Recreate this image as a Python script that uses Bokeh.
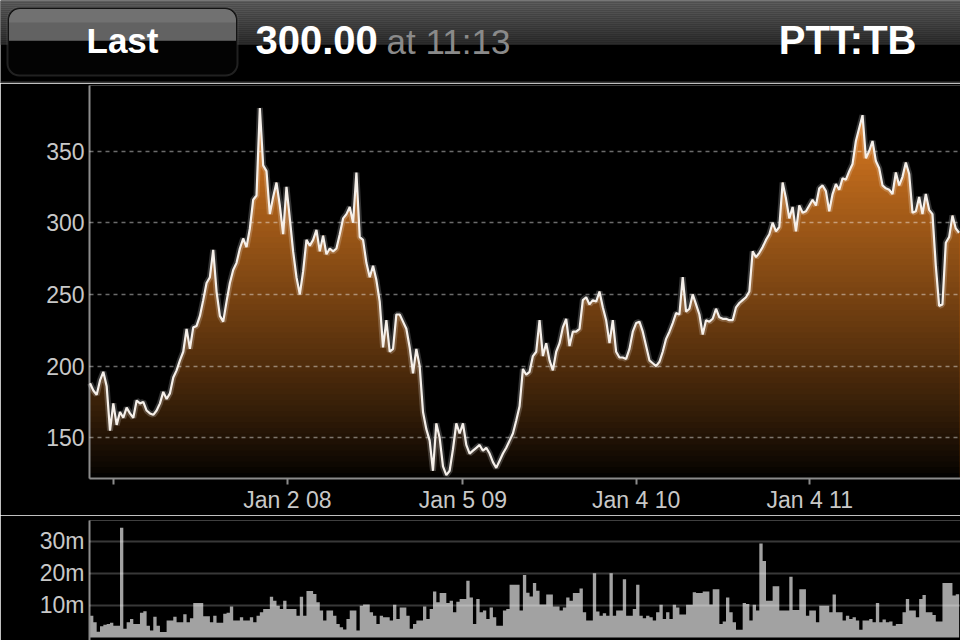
import numpy as np
import pandas as pd
from bokeh.plotting import figure
from bokeh.layouts import column
from bokeh.models import Range1d, FixedTicker, BoxAnnotation, Label
from bokeh.embed import file_html
from bokeh.resources import INLINE

# ---------------- data ----------------
week_start = "2006-11-13"
price = [
    188, 183, 180, 190, 196, 186, 155, 174, 159, 168,
    164, 171, 167, 164, 176, 174, 175, 169, 167, 166,
    169, 174, 182, 177, 181, 192, 197, 204, 210, 226,
    212, 227, 228, 235, 246, 258, 262, 281, 252, 235,
    231, 245, 258, 267, 272, 282, 289, 283, 296, 316,
    319, 380, 340, 336, 306, 318, 328, 312, 292, 325,
    303, 280, 262, 250, 266, 288, 284, 288, 295, 280,
    291, 278, 282, 280, 282, 292, 303, 306, 311, 300,
    335, 290, 288, 272, 262, 270, 260, 245, 213, 232,
    210, 212, 236, 236, 231, 226, 213, 195, 212, 200,
    168, 156, 148, 127, 160, 150, 130, 124, 127, 142,
    160, 153, 160, 145, 139, 141, 143, 145, 141, 143,
    139, 133, 129, 134, 139, 143, 148, 153, 162, 172,
    198, 194, 196, 207, 210, 232, 207, 216, 204, 197,
    210, 216, 227, 233, 214, 224, 224, 226, 246, 248,
    243, 246, 245, 252, 241, 232, 216, 232, 210, 206,
    206, 205, 212, 224, 230, 231, 224, 214, 204, 202,
    200, 203, 210, 219, 224, 230, 237, 236, 262, 238,
    240, 250, 243, 236, 222, 232, 231, 233, 240, 234,
    233, 233, 232, 232, 241, 244, 246, 248, 252, 280,
    276, 279, 283, 288, 292, 300, 294, 297, 328, 317,
    303, 311, 294, 312, 307, 308, 312, 316, 312, 324,
    326, 322, 308, 320, 327, 323, 331, 330, 336, 341,
    357, 366, 375, 345, 350, 357, 343, 338, 326, 324,
    323, 320, 335, 326, 332, 342, 334, 307, 308, 318,
    306, 320, 309, 306, 270, 242, 243, 286, 290, 305,
    296, 293,
]
volume_m = [
    6.8, 4.8, 1.8, 3.5, 4.0, 4.2, 4.6, 3.7, 3.7, 34.3,
    2.7, 4.8, 5.8, 4.2, 4.2, 7.7, 8.2, 3.7, 2.2, 6.5,
    3.7, 1.7, 1.7, 5.3, 5.3, 6.5, 4.8, 4.8, 7.3, 4.8,
    6.0, 10.8, 10.8, 10.8, 6.6, 6.6, 4.8, 6.8, 4.6, 4.6,
    7.4, 7.7, 9.7, 5.3, 5.3, 6.3, 5.3, 5.3, 6.3, 4.8,
    6.8, 7.9, 8.9, 8.9, 12.7, 11.5, 9.9, 8.9, 11.5, 8.9,
    8.9, 8.9, 6.8, 12.7, 6.8, 14.5, 14.5, 13.6, 11.0, 8.4,
    5.3, 8.4, 8.4, 6.8, 4.2, 3.2, 2.5, 5.8, 8.4, 8.4,
    2.2, 9.9, 10.3, 10.3, 7.9, 6.8, 4.2, 6.8, 6.3, 6.3,
    5.3, 10.2, 5.8, 9.4, 9.4, 6.8, 2.7, 4.2, 5.3, 5.3,
    9.7, 5.8, 8.9, 14.4, 11.0, 13.9, 13.9, 10.8, 11.5, 7.9,
    11.2, 12.0, 12.0, 17.7, 12.5, 4.2, 12.0, 7.9, 8.4, 5.8,
    9.4, 6.3, 3.7, 3.7, 8.4, 8.9, 16.5, 16.5, 16.5, 8.4,
    19.5, 14.0, 12.8, 17.0, 14.6, 10.3, 10.3, 13.4, 13.4, 9.7,
    9.7, 8.4, 9.4, 12.5, 11.5, 13.9, 13.9, 15.3, 7.9, 5.3,
    5.3, 20.1, 8.1, 6.8, 7.6, 6.8, 20.1, 6.8, 8.4, 8.4,
    18.2, 6.8, 6.8, 8.9, 16.5, 6.8, 6.0, 6.8, 6.3, 5.3,
    7.9, 10.2, 5.8, 7.9, 5.8, 10.2, 9.4, 7.2, 7.2, 10.2,
    10.2, 14.1, 13.9, 13.9, 14.4, 14.4, 10.3, 15.1, 15.1, 4.2,
    5.0, 12.5, 7.9, 4.8, 2.4, 2.4, 10.8, 10.5, 5.3, 10.2,
    8.4, 29.4, 23.9, 11.5, 11.5, 16.0, 16.0, 8.4, 8.4, 8.4,
    19.0, 8.6, 8.6, 15.1, 15.1, 6.8, 8.4, 8.4, 4.8, 9.9,
    9.9, 9.9, 7.9, 13.4, 7.9, 7.9, 5.3, 6.8, 5.8, 6.3,
    5.3, 2.4, 5.3, 5.3, 5.8, 4.8, 10.8, 4.8, 5.6, 4.8,
    5.0, 3.7, 4.2, 4.2, 7.9, 12.0, 8.4, 8.4, 6.3, 12.0,
    13.3, 7.9, 7.9, 7.0, 5.0, 5.0, 17.0, 17.0, 17.0, 13.1,
    13.5, 13.5,
]
tick_dates = ["2007-01-02", "2008-01-02", "2009-01-05", "2010-01-04", "2011-01-04"]
tick_labels = ["", "Jan 2 08", "Jan 5 09", "Jan 4 10", "Jan 4 11"]
price_ticks = [150, 200, 250, 300, 350]
volume_ticks = [10, 20, 30]
volume_labels = ["10m", "20m", "30m"]
button_text = "Last"
last_price = "300.00"
last_time = "at 11:13"
symbol = "PTT:TB"

# ---------------- helpers ----------------
FONT = "Liberation Sans"
W = 960
LEFT = 89
n = min(len(price), len(volume_m))
dates = pd.date_range(week_start, periods=n, freq="7D")
price_arr = np.array(price[:n], dtype=float)
vol_arr = np.array(volume_m[:n], dtype=float)


def to_ms(d):
    return int((pd.Timestamp(d) - pd.Timestamp("1970-01-01")) // pd.Timedelta(milliseconds=1))


tick_ms = [to_ms(d) for d in tick_dates]
x_start = pd.Timestamp("2006-11-11 22:00")
x_end = pd.Timestamp("2011-11-16 22:00")


def hexc(rgb):
    r, g, b = [int(max(0, min(255, round(v)))) for v in rgb]
    return "#%02x%02x%02x" % (r, g, b)


def dark(fig):
    fig.background_fill_color = "black"
    fig.border_fill_color = "black"
    fig.outline_line_color = None


# ---------------- header ----------------
hdr = figure(width=W, height=83, x_range=Range1d(0, 960), y_range=Range1d(83, 0),
             toolbar_location=None, output_backend="svg", title=None,
             x_axis_location=None, y_axis_location=None,
             min_border_left=0, min_border_right=0, min_border_top=0, min_border_bottom=0)
hdr.frame_align = False
dark(hdr)
hdr.grid.visible = False
g_edges = np.arange(0, 43, 2)
g_cols = [hexc([94 - 50 * (e + 1) / 43.0] * 3) for e in g_edges]
hdr.quad(left=0, right=960, top=g_edges, bottom=g_edges + 2.2, fill_color=g_cols, line_color=None)
hdr.quad(left=0, right=960, top=[81], bottom=[83], fill_color="#3a3a3a", line_color=None)

btn = BoxAnnotation(left=7, right=237, top=7, bottom=75, border_radius=12,
                    fill_color="#030303", fill_alpha=1.0, line_color="#6e6e6e", line_width=2)
gloss = BoxAnnotation(left=8.5, right=235.5, top=8.5, bottom=40, border_radius=(11, 11, 0, 0),
                      fill_color="#717171", fill_alpha=1.0, line_alpha=0)
gloss2 = BoxAnnotation(left=8.5, right=235.5, top=22, bottom=40,
                       fill_color="#626262", fill_alpha=1.0, line_alpha=0)
hdr.add_layout(btn)
hdr.add_layout(gloss)
hdr.add_layout(gloss2)
TY = 39.5
hdr.add_layout(Label(x=122, y=TY, text=button_text, text_align="center", text_baseline="middle",
                     text_font=FONT, text_font_style="bold", text_font_size="35px", text_color="white"))
hdr.add_layout(Label(x=255, y=TY, text=last_price, text_align="left", text_baseline="middle",
                     text_font=FONT, text_font_style="bold", text_font_size="40px", text_color="white"))
hdr.add_layout(Label(x=386, y=TY + 1, text=last_time, text_align="left", text_baseline="middle",
                     text_font=FONT, text_font_size="35px", text_color="#8a8a8a"))
hdr.add_layout(Label(x=916, y=TY, text=symbol, text_align="right", text_baseline="middle",
                     text_font=FONT, text_font_style="bold", text_font_size="40px", text_color="white"))

# ---------------- price chart ----------------
Y0, Y1 = 121.6, 395.7
xr = Range1d(x_start, x_end)
p = figure(width=W, height=432, x_axis_type="datetime", x_range=xr, y_range=Range1d(Y0, Y1),
           toolbar_location=None, output_backend="svg", title=None,
           min_border_left=LEFT, min_border_right=0, min_border_top=2, min_border_bottom=34)
dark(p)

edges = np.linspace(Y0, Y1, 71)
top_rgb = np.array([230, 128, 34])
for k in range(len(edges) - 2, -1, -1):
    hi = edges[k + 1]
    t = ((edges[k] + hi) / 2 - Y0) / (Y1 - Y0)
    col = hexc(top_rgb * t ** 0.85)
    p.varea(x=dates, y1=Y0, y2=np.minimum(price_arr, hi), fill_color=col, fill_alpha=1.0)

glow = p.line(dates, price_arr, line_color="white", line_width=6, line_alpha=0.2)
ln = p.line(dates, price_arr, line_color="#f6f0ea", line_width=2.2)
glow.level = "overlay"
ln.level = "overlay"

p.xgrid.visible = False
p.ygrid.ticker = FixedTicker(ticks=price_ticks)
p.ygrid.grid_line_color = "white"
p.ygrid.grid_line_alpha = 0.42
p.ygrid.grid_line_dash = "4 4"
p.ygrid.grid_line_width = 1.5
p.ygrid.level = "annotation"

p.xaxis.ticker = FixedTicker(ticks=tick_ms)
p.xaxis.major_label_overrides = {t: l for t, l in zip(tick_ms, tick_labels)}
p.yaxis.ticker = FixedTicker(ticks=price_ticks)
for ax in (p.xaxis, p.yaxis):
    ax.axis_line_color = "#8c8c8c"
    ax.axis_line_width = 2
    ax.major_tick_line_color = "#8c8c8c"
    ax.major_tick_line_width = 2
    ax.minor_tick_line_color = None
    ax.major_label_text_font = FONT
    ax.major_label_text_font_size = "23px"
    ax.major_label_text_color = "#c8c8c8"
p.xaxis.major_tick_out = 6
p.xaxis.major_tick_in = 0
p.xaxis.major_label_standoff = 2
p.yaxis.major_tick_out = 0
p.yaxis.major_tick_in = 0
p.yaxis.major_label_standoff = 5

# ---------------- volume chart ----------------
v = figure(width=W, height=125, x_axis_type="datetime", x_range=xr, y_range=Range1d(-0.94, 36.56),
           toolbar_location=None, output_backend="svg", title=None, x_axis_location=None,
           min_border_left=LEFT, min_border_right=0, min_border_top=5, min_border_bottom=0)
dark(v)
v.varea_step(x=dates, y1=0, y2=vol_arr, step_mode="after", fill_color="#a2a2a2", fill_alpha=1.0)
v.xgrid.visible = False
v.ygrid.ticker = FixedTicker(ticks=volume_ticks)
v.ygrid.grid_line_color = "white"
v.ygrid.grid_line_alpha = 0.22
v.ygrid.grid_line_width = 2
v.ygrid.level = "annotation"
v.yaxis.ticker = FixedTicker(ticks=volume_ticks)
v.yaxis.major_label_overrides = {t: l for t, l in zip(volume_ticks, volume_labels)}
v.yaxis.axis_line_color = "#8c8c8c"
v.yaxis.axis_line_width = 2
v.yaxis.major_tick_out = 0
v.yaxis.major_tick_in = 0
v.yaxis.minor_tick_line_color = None
v.yaxis.major_label_standoff = 5
v.yaxis.major_label_text_font = FONT
v.yaxis.major_label_text_font_size = "23px"
v.yaxis.major_label_text_color = "#c8c8c8"

layout = column(hdr, p, v, spacing=0)
open("out.html", "w").write(file_html(layout, INLINE))
